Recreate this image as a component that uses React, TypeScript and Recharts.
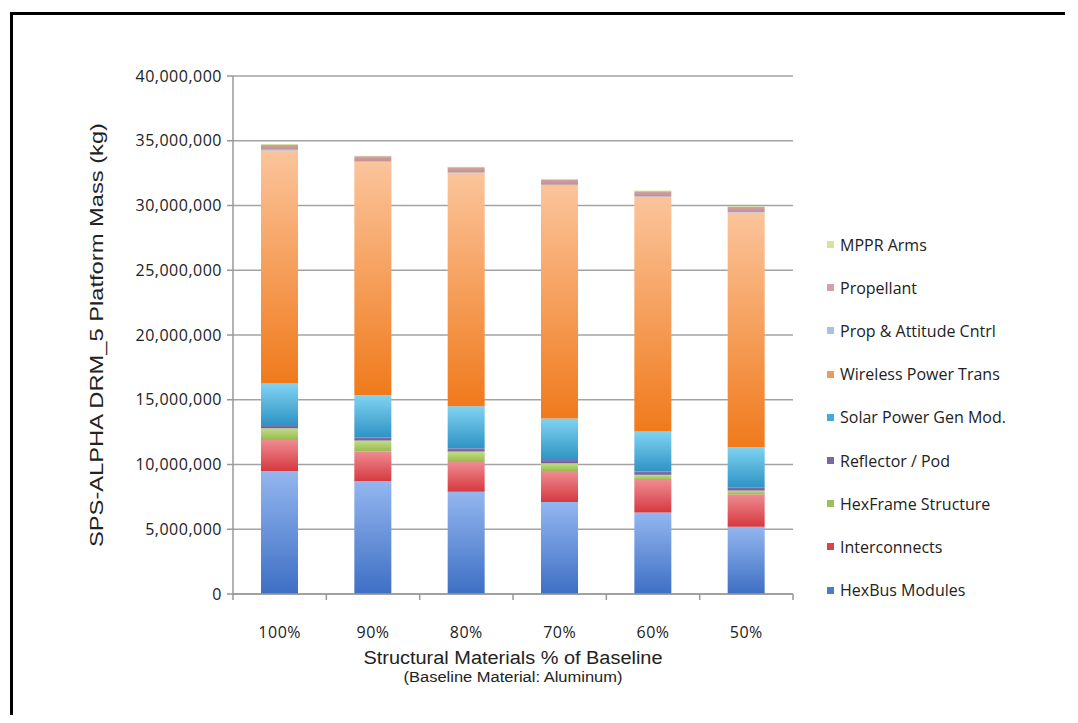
import { BarChart, Bar, XAxis, YAxis, CartesianGrid, Legend } from 'recharts'

// platform mass per structural-material case, kg
const categories = ['100%', '90%', '80%', '70%', '60%', '50%']
const hexBusModules = [9500000, 8700000, 7900000, 7100000, 6300000, 5200000]
const interconnects = [2400000, 2300000, 2300000, 2400000, 2500000, 2500000]
const hexFrameStructure = [900000, 850000, 800000, 600000, 400000, 300000]
const reflectorPod = [250000, 250000, 250000, 250000, 250000, 250000]
const solarPowerGenMod = [3200000, 3250000, 3250000, 3200000, 3100000, 3100000]
const wirelessPowerTrans = [18000000, 18000000, 18000000, 18000000, 18100000, 18100000]
const propAttitudeCntrl = [50000, 50000, 50000, 50000, 50000, 50000]
const propellant = [400000, 400000, 400000, 400000, 400000, 400000]
const mpprArms = [50000, 50000, 50000, 50000, 50000, 50000]

const yTicks = [0, 5000000, 10000000, 15000000, 20000000, 25000000, 30000000, 35000000, 40000000]

const data = categories.map((category, i) => ({
    category,
    hexBus: hexBusModules[i],
    interconnects: interconnects[i],
    hexFrame: hexFrameStructure[i],
    reflector: reflectorPod[i],
    solar: solarPowerGenMod[i],
    wireless: wirelessPowerTrans[i],
    propAttitude: propAttitudeCntrl[i],
    propellant: propellant[i],
    mppr: mpprArms[i],
}))

// stacking order, bottom to top
const series = [
    { key: 'hexBus', name: 'HexBus Modules', top: '#93b6ef', bottom: '#3e6fc4', swatch: '#4a7cc9' },
    { key: 'interconnects', name: 'Interconnects', top: '#ef8b92', bottom: '#d63940', swatch: '#d9464a' },
    { key: 'hexFrame', name: 'HexFrame Structure', top: '#c3dd85', bottom: '#96bb4e', swatch: '#9bc05a' },
    { key: 'reflector', name: 'Reflector / Pod', top: '#8a78b0', bottom: '#6a5896', swatch: '#7a68a3' },
    { key: 'solar', name: 'Solar Power Gen Mod.', top: '#80d3f2', bottom: '#2f93c4', swatch: '#40aed3' },
    { key: 'wireless', name: 'Wireless Power Trans', top: '#fbc49b', bottom: '#f07a1c', swatch: '#ec9a5e' },
    { key: 'propAttitude', name: 'Prop & Attitude Cntrl', top: '#b7cbee', bottom: '#9ab4e2', swatch: '#a9c0e8' },
    { key: 'propellant', name: 'Propellant', top: '#d2a2a2', bottom: '#c48e8e', swatch: '#d6a0ab' },
    { key: 'mppr', name: 'MPPR Arms', top: '#dfeaa8', bottom: '#c9dc88', swatch: '#d4e49a' },
]

const tickFont = { fontFamily: '"Open Sans", sans-serif', fontSize: 16, fill: '#222', letterSpacing: 0.5 }
const titleFont = '"Liberation Sans", Arial, sans-serif'
const axisGray = '#999'

// category label plus the small tick marks that sit between categories
const XTick = (props: any) => {
    const { x, y, payload, index, visibleTicksCount } = props
    const half = payload.offset || 0
    const axisY = y - 33
    return (
        <g>
            <line x1={x - half} x2={x - half} y1={axisY} y2={axisY + 6} stroke={axisGray} strokeWidth={1.5} />
            {index === visibleTicksCount - 1 && (
                <line x1={x + half} x2={x + half} y1={axisY} y2={axisY + 6} stroke={axisGray} strokeWidth={1.5} />
            )}
            <text x={x} y={y} dy="0.71em" textAnchor="middle" fontFamily={tickFont.fontFamily}
                fontSize={tickFont.fontSize} fill={tickFont.fill} letterSpacing={tickFont.letterSpacing}>
                {payload.value}
            </text>
        </g>
    )
}

const YTitle = (props: any) => {
    const vb = props.viewBox
    const cx = 89
    const cy = vb.y + vb.height / 2
    return (
        <text x={cx} y={cy} transform={`rotate(-90 ${cx} ${cy})`} textAnchor="middle" dominantBaseline="central"
            fontFamily={titleFont} fontSize={18} fill="#222" textLength={424} lengthAdjust="spacingAndGlyphs">
            SPS-ALPHA DRM_5 Platform Mass (kg)
        </text>
    )
}

const XTitle = (props: any) => {
    const vb = props.viewBox
    const cx = vb.x + vb.width / 2
    return (
        <g>
            <text x={cx} y={vb.y + 70} textAnchor="middle" fontFamily={titleFont} fontSize={18} fill="#222"
                textLength={299} lengthAdjust="spacingAndGlyphs">
                Structural Materials % of Baseline
            </text>
            <text x={cx} y={vb.y + 88} textAnchor="middle" fontFamily={titleFont} fontSize={14} fill="#222"
                textLength={219} lengthAdjust="spacingAndGlyphs">
                (Baseline Material: Aluminum)
            </text>
        </g>
    )
}

const LegendList = () => (
    <div style={{ width: 240 }}>
        {[...series].reverse().map((s) => (
            <div key={s.key} style={{ height: 43.2, display: 'flex', alignItems: 'center' }}>
                <span style={{ width: 7, height: 7, background: s.swatch, marginLeft: 8, marginRight: 6 }} />
                <span style={{ fontFamily: '"Open Sans", sans-serif', fontSize: 16, color: '#222' }}>
                    {s.name}
                </span>
            </div>
        ))}
    </div>
)

const App = () => {
    return (
        <div style={{ position: 'relative', width: 1062, height: 707, background: '#fff' }}>
            <div style={{ position: 'absolute', left: 2, top: 4, width: 1052, height: 711, borderTop: '3px solid #000', borderLeft: '3px solid #000' }} />
            <BarChart width={1062} height={707} data={data} barCategoryGap="30%"
                margin={{ top: 68, right: 37, left: 0, bottom: 91 }}>
                <defs>
                    {series.map((s) => (
                        <linearGradient key={s.key} id={`grad-${s.key}`} x1="0" y1="0" x2="0" y2="1">
                            <stop offset="0%" stopColor={s.top} />
                            <stop offset="100%" stopColor={s.bottom} />
                        </linearGradient>
                    ))}
                </defs>
                <CartesianGrid vertical={false} stroke="#a3a3a3" strokeWidth={1.5} />
                <XAxis dataKey="category" height={30} axisLine={{ stroke: axisGray, strokeWidth: 1.5 }} tickLine={false}
                    tickSize={0} tickMargin={33} tick={XTick} interval={0} label={{ content: XTitle }} />
                <YAxis width={225} domain={[0, 40000000]} ticks={yTicks} tickSize={6} tickMargin={5}
                    tickFormatter={(v: number) => v.toLocaleString('en-US')} tick={tickFont}
                    axisLine={{ stroke: axisGray, strokeWidth: 1.5 }} tickLine={{ stroke: axisGray, strokeWidth: 1.5 }}
                    label={{ content: YTitle }} />
                <Legend layout="vertical" align="right" verticalAlign="middle" content={LegendList}
                    wrapperStyle={{ left: 811, top: 215, width: 240 }} />
                {series.map((s) => (
                    <Bar key={s.key} dataKey={s.key} name={s.name} stackId="mass"
                        fill={`url(#grad-${s.key})`} isAnimationActive={false} />
                ))}
            </BarChart>
        </div>
    )
}

export default App
